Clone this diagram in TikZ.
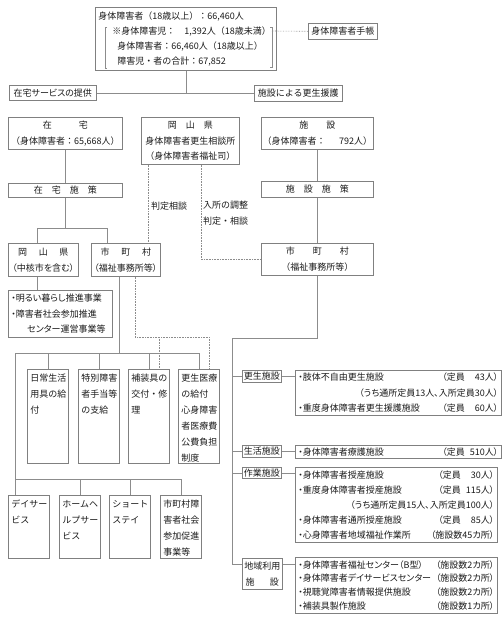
\documentclass[tikz,border=0pt]{standalone}
\usepackage{fontspec}
\setmainfont{Noto Sans CJK JP}
\newfontfamily\paltfont[RawFeature=+palt]{Noto Sans CJK JP}
\definecolor{boxgray}{HTML}{808080}
\definecolor{linegray}{HTML}{8C8C8C}
\definecolor{ink}{HTML}{1A1A1A}
\newcommand\facrow[2]{\leavevmode\hbox to \linewidth{#1\hfil #2}}
\newcommand\teiin[1]{\hbox to 20pt{\hfil #1}}
\begin{document}
\begin{tikzpicture}[x=1pt, y=-1pt,
    blk/.style={draw=boxgray, line width=0.6pt, inner sep=0pt, anchor=north west,
        text=ink, font=\fontsize{9}{16}\selectfont, align=center},
    pblk/.style={blk, font=\paltfont\fontsize{9}{16}\selectfont},
    tall/.style={blk, align=left, text width=35pt, inner xsep=3pt, inner ysep=4pt,
        text height=8pt, text depth=#1},
    lst/.style={blk, align=left, text width=#1, inner xsep=3pt,
        font=\paltfont\fontsize{9}{15.5}\selectfont},
    con/.style={draw=linegray, line width=0.6pt},
    dotl/.style={con, densely dotted}
]
\useasboundingbox (0,0) rectangle (503,630);

% top
\node[blk, minimum width=181, minimum height=63, text width=175, align=left,
    inner xsep=3pt, font=\fontsize{9}{15}\selectfont] (total) at (95,7)
    {身体障害者（18歳以上）：66,460人\\
     \hspace*{14pt}※身体障害児：　1,392人（18歳未満）\\
     \hspace*{19pt}身体障害者：66,460人（18歳以上）\\
     \hspace*{19pt}障害児・者の合計：67,852};
\draw[con] (107,27) -| (105,68) -- (107,68);
\draw[con] (270,27) -| (272,67) -- (270,67);
\coordinate (brk) at (272,31);
\node[blk, minimum width=69, minimum height=16] (techo) at (308,23) {身体障害者手帳};
\draw[dotl] (brk) -- (techo.west);

\node[pblk, minimum width=87, minimum height=15] (zaitakuS) at (9,85) {在宅サービスの提供};
\node[blk, minimum width=88, minimum height=16] (shisetsuS) at (254,85) {施設による更生援護};
\draw[con] (total.south) |- (zaitakuS.east);
\draw[con] (total.south) |- (shisetsuS.west);

% second row
\node[blk, minimum width=114, minimum height=32] (zaitaku) at (8,117)
    {在\hspace{3em}宅\\（身体障害者：65,668人）};
\node[blk, minimum width=98, minimum height=47, font=\fontsize{9}{15.5}\selectfont] (soudan) at (141,117)
    {岡\hspace{1em}山\hspace{1em}県\\身体障害者更生相談所\\（身体障害者福祉司）};
\node[blk, minimum width=112, minimum height=32] (shisetsu) at (261,117)
    {施\hspace{2em}設\\（身体障害者：\hspace{1.5em}792人）};

\node[blk, minimum width=114, minimum height=14] (zsesaku) at (8,183) {在　宅　施　策};
\node[blk, minimum width=112, minimum height=16] (ssesaku) at (261,181) {施　設　施　策};
\draw[con] (zaitaku) -- (zsesaku);

\node[pblk, minimum width=70, minimum height=33] (okayama) at (8,243)
    {岡\hspace{1.3em}山\hspace{1.3em}県\\（中核市を含む）};
\node[pblk, minimum width=69, minimum height=33] (shichoL) at (91,243)
    {市\hspace{1.3em}町\hspace{1.3em}村\\（福祉事務所等）};
\node[blk, minimum width=112, minimum height=32] (shichoR) at (261,243)
    {市\hspace{2em}町\hspace{2em}村\\（福祉事務所等）};
\draw[con] (shisetsu) -- (ssesaku) -- (shichoR);

\coordinate (zsL) at (37,228);
\coordinate (zsR) at (107,228);
\draw[con] (zsesaku) -- (zsesaku |- zsL);
\draw[con] (zsL |- okayama.north) -- (zsL) -- (zsR) -- (zsR |- shichoL.north);

% dotted links from the consultation office
\draw[dotl] ([xshift=7pt]soudan.south west) -- ([xshift=57pt]shichoL.north west);
\draw[dotl] ([xshift=60pt]soudan.south west) |- (shichoR.west);
\node[anchor=west, inner sep=0pt, text=ink, font=\fontsize{9}{16}\selectfont] (hantei) at (151,206) {判定相談};
\node[anchor=north west, inner sep=0pt, align=left, text=ink,
    font=\fontsize{9}{16}\selectfont] (chousei) at (203,201) {入所の調整\\判定・相談};

% home services
\node[lst=98pt, minimum height=47] (kurashi) at (8,290)
    {・明るい暮らし推進事業\\・障害者社会参加推進\\\hspace*{16pt}センター運営事業等};
\draw[con] (zsL |- okayama.south) -- (zsL |- kurashi.north);

\node[tall=78pt] (nichijo) at (27,369) {日常生活\\用具の給\\付};
\node[tall=78pt] (tokubetsu) at (78,369) {特別障害\\者手当等\\の支給};
\node[tall=78pt] (hosogu) at (128,369) {補装具の\\交付・修\\理};
\node[tall=78pt] (iryo) at (178,369) {更生医療\\の給付\\心身障害\\者医療費\\公費負担\\制度};

\node[tall=47pt] (day) at (8,495) {デイサー\\ビス};
\node[tall=47pt] (home) at (59,495) {ホームヘ\\ルプサー\\ビス};
\node[tall=47pt] (short) at (109,495) {ショート\\ステイ};
\node[tall=47pt] (sanka) at (160,495) {市町村障\\害者社会\\参加促進\\事業等};

\coordinate (kyufuL) at (15,353);
\coordinate (sL) at (119,353);
\coordinate (zaiL) at (15,479);
\draw[con] (sL |- shichoL.south) -- (sL);
\draw[con] (kyufuL) -- (iryo.north |- kyufuL);
\foreach \n in {nichijo,tokubetsu,hosogu,iryo}
    \draw[con] (\n.north |- kyufuL) -- (\n.north);
\draw[con] (kyufuL) -- (kyufuL |- day.north);
\draw[con] (zaiL) -- (sanka.north |- zaiL);
\foreach \n in {home,short,sanka}
    \draw[con] (\n.north |- zaiL) -- (\n.north);

\coordinate (dq) at (135,337);
\draw[dotl] (dq |- shichoL.south) -- (dq) -- ([xshift=10pt]iryo.north |- dq) -- ([xshift=10pt]iryo.north);
\draw[dotl] ([xshift=10pt]hosogu.north |- dq) -- ([xshift=10pt]hosogu.north);

% facilities
\node[blk, minimum width=39, minimum height=12] (kousei) at (242,370) {更生施設};
\node[blk, minimum width=39, minimum height=12] (seikatsu) at (242,445) {生活施設};
\node[blk, minimum width=39, minimum height=11] (sagyo) at (242,467) {作業施設};
\node[blk, minimum width=40, minimum height=31, font=\fontsize{9}{16}\selectfont] (chiiki) at (242,558)
    {地域利用\\施\hspace{1.7em}設};

\node[lst=200pt, minimum height=45] (ckousei) at (295,370)
    {\facrow{・肢体不自由更生施設}{（定員\teiin{43}人）}\\
     \facrow{}{（うち通所定員13人、入所定員30人）}\\
     \facrow{・重度身体障害者更生援護施設}{（定員\teiin{60}人）}};
\node[lst=200pt, minimum height=13] (cseikatsu) at (295,445)
    {\facrow{・身体障害者療護施設}{（定員\teiin{510}人）}};
\node[lst=196pt, minimum height=75, font=\paltfont\fontsize{9}{15}\selectfont] (csagyo) at (295,467)
    {\facrow{・身体障害者授産施設}{（定員\teiin{30}人）}\\
     \facrow{・重度身体障害者授産施設}{（定員\teiin{115}人）}\\
     \facrow{}{（うち通所定員15人、入所定員100人）}\\
     \facrow{・身体障害者通所授産施設}{（定員\teiin{85}人）}\\
     \facrow{・心身障害者地域福祉作業所}{（施設数45カ所）}};
\node[lst=196pt, minimum height=56, font=\paltfont\fontsize{9}{13.7}\selectfont] (cchiiki) at (295,557)
    {\facrow{・身体障害者福祉センター（B型）}{（施設数2カ所）}\\
     \facrow{・身体障害者デイサービスセンター}{（施設数2カ所）}\\
     \facrow{・視聴覚障害者情報提供施設}{（施設数2カ所）}\\
     \facrow{・補装具製作施設}{（施設数1カ所）}};

\coordinate (rs) at (232,338);
\coordinate (ctick) at ([yshift=-6pt]chiiki.north west);
\draw[con] (shichoR.south) |- (rs) -- (rs |- ctick) -- (ctick);
\draw[con] (ctick -| chiiki.east) -- (ctick -| cchiiki.west);
\foreach \n in {kousei,seikatsu,sagyo} {
    \draw[con] (\n.west -| rs) -- (\n.west);
    \draw[con] (\n.east) -- (\n.east -| c\n.west);
}
\end{tikzpicture}
\end{document}
